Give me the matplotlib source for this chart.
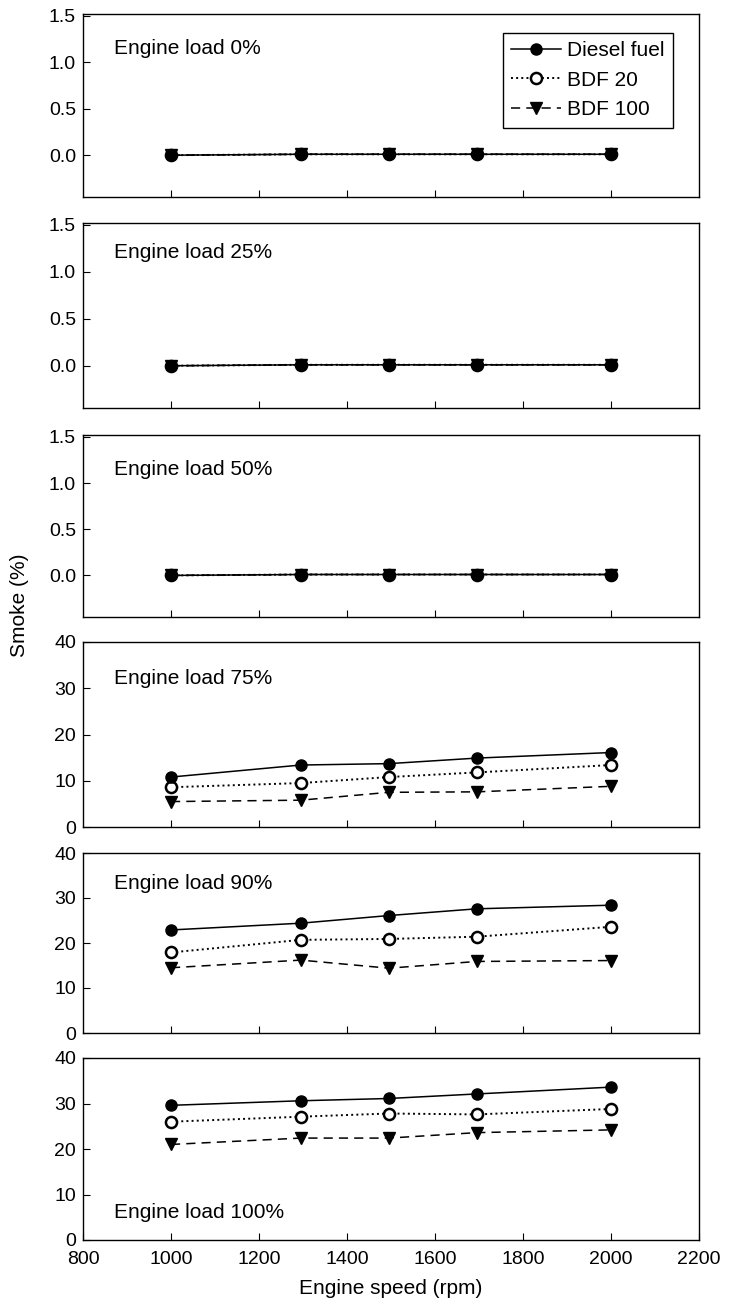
import numpy as np
import matplotlib
matplotlib.use("Agg")
import matplotlib.pyplot as plt

plt.rcParams["font.family"] = ["Liberation Sans", "DejaVu Sans"]

speed = [1000, 1295, 1495, 1695, 2000]
loads = ["0%", "25%", "50%", "75%", "90%", "100%"]

diesel = {
    "0%": [0.0, 0.01, 0.01, 0.01, 0.01],
    "25%": [0.0, 0.01, 0.01, 0.01, 0.01],
    "50%": [0.0, 0.01, 0.01, 0.01, 0.01],
    "75%": [10.8, 13.4, 13.7, 14.9, 16.1],
    "90%": [22.9, 24.4, 26.1, 27.6, 28.4],
    "100%": [29.6, 30.6, 31.1, 32.1, 33.6],
}
bdf20 = {
    "0%": [0.0, 0.01, 0.01, 0.01, 0.01],
    "25%": [0.0, 0.01, 0.01, 0.01, 0.01],
    "50%": [0.0, 0.01, 0.01, 0.01, 0.01],
    "75%": [8.6, 9.5, 10.8, 11.8, 13.4],
    "90%": [17.9, 20.7, 20.9, 21.4, 23.6],
    "100%": [26.0, 27.1, 27.8, 27.6, 28.8],
}
bdf100 = {
    "0%": [0.0, 0.01, 0.01, 0.01, 0.01],
    "25%": [0.0, 0.01, 0.01, 0.01, 0.01],
    "50%": [0.0, 0.01, 0.01, 0.01, 0.01],
    "75%": [5.5, 5.8, 7.5, 7.6, 8.8],
    "90%": [14.5, 16.2, 14.4, 15.9, 16.1],
    "100%": [21.0, 22.4, 22.4, 23.6, 24.2],
}

W, H = 729, 1305
fig = plt.figure(figsize=(W / 100, H / 100), dpi=100)

left, right = 83, 699
boxes = [(14, 197), (223, 408), (435, 617), (642, 827), (853, 1033), (1058, 1240)]
text_y = [0.81, 0.84, 0.81, 0.80, 0.83, 0.15]

for i, ld in enumerate(loads):
    top, bot = boxes[i]
    ax = fig.add_axes([left / W, 1 - bot / H, (right - left) / W, (bot - top) / H])
    # BDF lines first so the diesel markers sit on top, as in the original
    ax.plot(speed, bdf100[ld], "--", color="k", lw=1.1, marker="v", ms=9,
            mfc="k", mec="k", label="BDF 100", dashes=(6, 4), zorder=3)
    ax.plot(speed, bdf20[ld], ":", color="k", lw=1.4, marker="o", ms=8,
            mfc="white", mec="k", mew=1.8, label="BDF 20", zorder=3)
    ax.plot(speed, diesel[ld], "-", color="k", lw=1.1, marker="o", ms=8,
            mfc="k", mec="k", label="Diesel fuel", zorder=4)
    ax.set_xlim(800, 2200)
    ax.set_xticks(np.arange(1000, 2001, 200))
    if i < 3:
        ax.set_ylim(-0.45, 1.52)
        ax.set_yticks([0.0, 0.5, 1.0, 1.5])
        ax.set_yticklabels(["0.0", "0.5", "1.0", "1.5"])
    else:
        ax.set_ylim(0, 40)
        ax.set_yticks([0, 10, 20, 30, 40])
    ax.tick_params(direction="in", length=5, width=0.8, labelsize=14, colors="k")
    ax.tick_params(axis="x", pad=8)
    ax.tick_params(axis="y", pad=5)
    if i < 5:
        ax.tick_params(axis="x", labelbottom=False)
    else:
        ax.set_xticks(np.arange(800, 2201, 200))
        ax.set_xlabel("Engine speed (rpm)", fontsize=15, labelpad=8)
    for s in ax.spines.values():
        s.set_linewidth(1.0)
    ax.text(0.05, text_y[i], "Engine load " + ld, transform=ax.transAxes,
            fontsize=15, va="center", ha="left")
    if i == 0:
        h, l = ax.get_legend_handles_labels()
        leg = ax.legend(h[::-1], l[::-1], loc="upper right",
                        bbox_to_anchor=(0.958, 0.896),
                        fontsize=15, fancybox=False, edgecolor="k",
                        framealpha=1, handlelength=2.4, handletextpad=0.3,
                        borderpad=0.4, labelspacing=0.5, borderaxespad=0)
        leg.get_frame().set_linewidth(1.0)

fig.text(20 / W, 1 - 605 / H, "Smoke (%)", rotation=90, fontsize=15,
         va="center", ha="center")

fig.savefig("out.png", dpi=100)
